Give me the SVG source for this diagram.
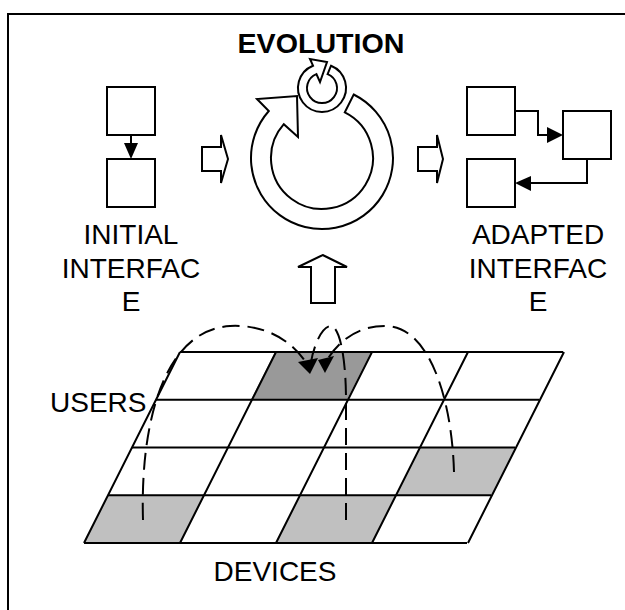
<svg xmlns="http://www.w3.org/2000/svg" width="625" height="610" viewBox="0 0 625 610">
<style>
.ln{fill:none;stroke:#000;stroke-width:2}
.bx{fill:#fff;stroke:#000;stroke-width:2}
.sh{fill:#fff;stroke:#000;stroke-width:2;stroke-linejoin:miter}
.ah{fill:#000;stroke:none}
.t{font-family:"Liberation Sans",Arial,sans-serif;font-size:28px;fill:#000;text-anchor:middle}
.tb{font-family:"Liberation Sans",Arial,sans-serif;font-size:27px;font-weight:bold;fill:#000;text-anchor:middle}
.gl{fill:none;stroke:#000;stroke-width:2}
.dash{fill:none;stroke:#000;stroke-width:2;stroke-dasharray:17 8}
</style>
<rect x="0" y="0" width="625" height="610" fill="#fff"/>
<rect id="frame" x="8" y="14" width="640" height="620" fill="none" stroke="#000" stroke-width="2"/>

<g id="initial-interface">
  <rect class="bx" x="107" y="87" width="48" height="48"/>
  <rect class="bx" x="107" y="159" width="48" height="48"/>
  <text class="t" x="131" y="244">INITIAL</text>
  <text class="t" x="131" y="277.5">INTERFAC</text>
  <text class="t" x="131" y="311">E</text>
</g>

<g id="adapted-interface">
  <rect class="bx" x="467" y="87" width="48" height="48"/>
  <rect class="bx" x="563" y="111" width="48" height="48"/>
  <rect class="bx" x="467" y="159" width="48" height="48"/>
  <text class="t" x="538" y="244">ADAPTED</text>
  <text class="t" x="538" y="277.5">INTERFAC</text>
  <text class="t" x="538" y="311">E</text>
</g>

<g id="evolution">
  <text class="tb" x="321" y="53" textLength="167" lengthAdjust="spacingAndGlyphs">EVOLUTION</text>
  <path class="sh" d="M353.7,94.5 A71,71 0 1 1 268.8,111 L257,99 L297,96 L298,137 L283.8,124.2 A51,51 0 1 0 344.8,112.4 Z"/>
  <path class="sh" d="M331,65.7 A24,24 0 1 1 313,65.7 L310,59 L327,62 L320,82 L316.4,74.1 A15,15 0 1 0 327.6,74.1 Z"/>
</g>

<g id="arrow-in">
  <path class="sh" d="M202,147 L221,147 L221,135 L228,159 L221,183 L221,171 L202,171 Z"/>
</g>
<g id="arrow-out">
  <path class="sh" d="M418,147 L437,147 L437,135 L443,159 L437,183 L437,171 L418,171 Z"/>
</g>
<g id="arrow-up">
  <path class="sh" d="M322.7,255 L347,267 L335,267 L335,303 L311,303 L311,267 L298,267 Z"/>
</g>

<g id="grid">
  <path fill="#999999" d="M275,352 L371,352 L347,399.75 L251,399.75 Z"/>
  <path fill="#c0c0c0" d="M420,447.5 L516,447.5 L492,495.25 L396,495.25 Z"/>
  <path fill="#c0c0c0" d="M108,495.25 L204,495.25 L180,543 L84,543 Z"/>
  <path fill="#c0c0c0" d="M300,495.25 L396,495.25 L372,543 L276,543 Z"/>
  <path class="gl" d="M180,352 H563 M156,399.75 H539 M132,447.5 H515 M108,495.25 H491 M84,543 H467"/>
  <path class="gl" d="M180,352 L84,543 M276,352 L180,543 M372,352 L276,543 M468,352 L372,543 M564,352 L468,543"/>
  <text class="t" x="50" y="412" style="text-anchor:start">USERS</text>
  <text class="t" x="275" y="581">DEVICES</text>
</g>

<g id="connectors">
  <path class="ln" d="M131,135 V145"/>
  <path class="ah" d="M124,143 L138,143 L131,159 Z"/>
  <path class="ln" d="M515,111 H538 V135 H549"/>
  <path class="ah" d="M547,127 L563,135 L547,143 Z"/>
  <path class="ln" d="M587,159 V183 H530"/>
  <path class="ah" d="M531,176 L515,183 L531,191 Z"/>
  <path class="dash" d="M143,520 C140,420 165,330 230,326 C270,324 295,345 307,364"/>
  <path class="ah" d="M298,362 L318,358 L310,374 Z"/>
  <path class="dash" d="M346,520 L346,400 C346,360 340,325 330,326 C320,328 313,350 311,362"/>
  <path class="dash" d="M454,472 C452,400 430,328 387,326 C360,325 338,340 326,362"/>
  <path class="ah" d="M318,360 L334,356 L325,373 Z"/>
</g>
</svg>
